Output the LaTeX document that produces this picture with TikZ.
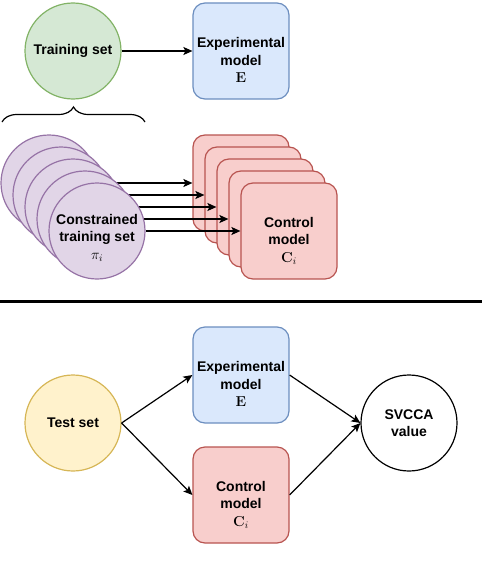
\documentclass[tikz,border=0pt]{standalone}
\usepackage[no-math]{fontspec}
\setsansfont{Liberation Sans}
\usepackage{amsmath}
\usepackage{amssymb}
\usetikzlibrary{arrows.meta,decorations.pathreplacing}
\pgfdeclarelayer{boxes}
\pgfdeclarelayer{links}
\pgfsetlayers{boxes,links,main}
\definecolor{greenline}{HTML}{82B366}
\definecolor{greenfill}{HTML}{D5E8D4}
\definecolor{blueline}{HTML}{6C8EBF}
\definecolor{bluefill}{HTML}{DAE8FC}
\definecolor{purpleline}{HTML}{9673A6}
\definecolor{purplefill}{HTML}{E1D5E7}
\definecolor{redline}{HTML}{B85450}
\definecolor{redfill}{HTML}{F8CECC}
\definecolor{yellowline}{HTML}{D6B656}
\definecolor{yellowfill}{HTML}{FFF2CC}
\begin{document}
\begin{tikzpicture}[x=1pt,y=-1pt]
        \tikzstyle{every node}+=[inner sep=0pt, align=center, font=\sffamily\bfseries\fontsize{14}{17.5}\selectfont]
        \tikzstyle{dataset}=[circle, draw, line width=1.2pt, minimum size=96pt]
        \tikzstyle{model}=[rectangle, rounded corners=12pt, draw, line width=1.2pt, minimum width=96pt, minimum height=96pt]
        \tikzstyle{link}=[black, line width=1.2pt, -{Stealth[length=9pt,width=8pt,inset=2pt]}]
        \useasboundingbox (0,0) rectangle (482,578);
        \node [dataset, draw=greenline, fill=greenfill] (train) at (73,51) {Training set};
        \node [model, draw=blueline, fill=bluefill] (expT) at (241,51) {};
        \node (expTtext) at ([yshift=-9pt]expT.center) {Experimental\\model\\$\mathbf{E}$};
        \draw [link] (train.east) -- (expT.west);
        \draw [black, line width=1.2pt, decorate, decoration={brace, amplitude=15pt}] (2,122) -- (145,122);
        \begin{pgfonlayer}{boxes}
        \node [model, draw=redline, fill=redfill] (ctrl1) at (241,183) {};
        \node [model, draw=redline, fill=redfill] (ctrl2) at (253,195) {};
        \node [model, draw=redline, fill=redfill] (ctrl3) at (265,207) {};
        \node [model, draw=redline, fill=redfill] (ctrl4) at (277,219) {};
        \node [model, draw=redline, fill=redfill] (ctrl5) at (289,231) {};
        \end{pgfonlayer}
        \node [dataset, draw=purpleline, fill=purplefill] (pi1) at (49,183) {};
        \node [dataset, draw=purpleline, fill=purplefill] (pi2) at (61,195) {};
        \node [dataset, draw=purpleline, fill=purplefill] (pi3) at (73,207) {};
        \node [dataset, draw=purpleline, fill=purplefill] (pi4) at (85,219) {};
        \node [dataset, draw=purpleline, fill=purplefill] (pi5) at (97,231) {};
        \node (pitext) at ([yshift=-7pt]pi5.center) {Constrained\\training set\\$\pi_i$};
        \node (ctrltext) at ([yshift=-10pt]ctrl5.center) {Control\\model\\$\mathbf{C}_i$};
        \begin{pgfonlayer}{links}
        \draw [link] (pi1.east) -- (ctrl1.west);
        \draw [link] (pi2.east) -- (ctrl2.west);
        \draw [link] (pi3.east) -- (ctrl3.west);
        \draw [link] (pi4.east) -- (ctrl4.west);
        \draw [link] (pi5.east) -- (ctrl5.west);
        \end{pgfonlayer}
        \draw [black, line width=3pt] (0,301.5) -- (482,301.5);
        \node [dataset, draw=yellowline, fill=yellowfill] (test) at (73,423) {Test set};
        \node [model, draw=blueline, fill=bluefill] (expB) at (241,375) {};
        \node (expBtext) at ([yshift=-9pt]expB.center) {Experimental\\model\\$\mathbf{E}$};
        \node [model, draw=redline, fill=redfill] (ctrlB) at (241,495) {};
        \node (ctrlBtext) at ([yshift=-10pt]ctrlB.center) {Control\\model\\$\mathbf{C}_i$};
        \node [dataset, draw=black, fill=white] (svcca) at (409,423) {SVCCA\\value};
        \draw [link] (test.east) -- (expB.west);
        \draw [link] (test.east) -- (ctrlB.west);
        \draw [link] (expB.east) -- (svcca.west);
        \draw [link] (ctrlB.east) -- (svcca.west);
\end{tikzpicture}
\end{document}
